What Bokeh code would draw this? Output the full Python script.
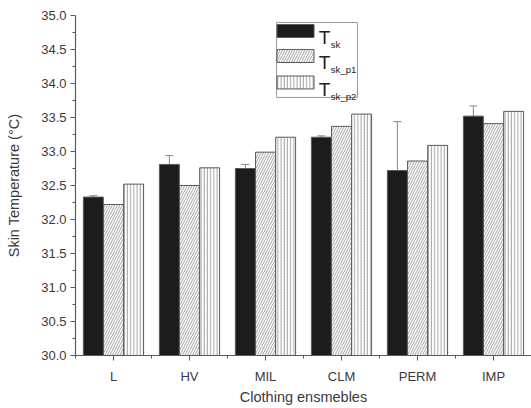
import numpy as np
from bokeh.plotting import figure
from bokeh.models import Range1d, FixedTicker, Whisker, ColumnDataSource, TeeHead, CustomJSTickFormatter
from bokeh.core.properties import value
from bokeh.embed import file_html
from bokeh.resources import INLINE

categories = ["L", "HV", "MIL", "CLM", "PERM", "IMP"]
tsk = [32.33, 32.81, 32.75, 33.21, 32.72, 33.52]
tsk_err_top = [32.35, 32.94, 32.81, 33.23, 33.44, 33.67]
tsk_p1 = [32.22, 32.50, 32.99, 33.37, 32.86, 33.41]
tsk_p2 = [32.52, 32.76, 33.21, 33.55, 33.09, 33.59]
y_ticks = [30.0, 30.5, 31.0, 31.5, 32.0, 32.5, 33.0, 33.5, 34.0, 34.5, 35.0]

FONT = "Liberation Sans"
TXT = "#3a3a3a"
EDGE = "#5a5a5a"

p = figure(width=531, height=408, output_backend="svg", toolbar_location=None,
           x_range=Range1d(0.5, 6.5), y_range=Range1d(30.0, 35.0),
           min_border_left=75, min_border_right=0, min_border_top=15, min_border_bottom=53)
p.outline_line_color = None
p.grid.visible = False
p.background_fill_color = "white"

xc = np.arange(1, len(categories) + 1)
bw = 0.262
off = 0.265
base = 30.0

p.vbar(x=xc - off, top=tsk, bottom=base, width=bw, fill_color="#1c1c1c",
       line_color=EDGE, line_width=1)
p.vbar(x=xc, top=tsk_p1, bottom=base, width=bw, fill_color="white",
       line_color=EDGE, line_width=1, hatch_pattern="right_diagonal_line",
       hatch_color="#8a8a8a", hatch_scale=5, hatch_weight=0.8)
p.vbar(x=xc + off, top=tsk_p2, bottom=base, width=bw, fill_color="white",
       line_color=EDGE, line_width=1, hatch_pattern="vertical_line",
       hatch_color="#8a8a8a", hatch_scale=3.2, hatch_weight=0.8)

src = ColumnDataSource(dict(x=xc - off, lo=tsk, hi=tsk_err_top))
p.add_layout(Whisker(source=src, base="x", lower="lo", upper="hi",
                     line_color="#888888", line_width=1, lower_head=None,
                     upper_head=TeeHead(size=8, line_color="#888888", line_width=1)))

# legend (drawn manually to allow subscripts)
p.quad(left=[3.145], right=[4.21], bottom=[33.795], top=[34.897],
       fill_color="white", line_color="#9a9a9a", line_width=1)
sw_y = [34.772, 34.404, 34.015]
p.rect(x=[3.395], y=[sw_y[0]], width=0.487, height=0.19, fill_color="#1c1c1c",
       line_color=EDGE)
p.rect(x=[3.395], y=[sw_y[1]], width=0.487, height=0.19, fill_color="white",
       line_color=EDGE, hatch_pattern="right_diagonal_line", hatch_color="#8a8a8a",
       hatch_scale=5, hatch_weight=0.8)
p.rect(x=[3.395], y=[sw_y[2]], width=0.487, height=0.19, fill_color="white",
       line_color=EDGE, hatch_pattern="vertical_line", hatch_color="#8a8a8a",
       hatch_scale=3.2, hatch_weight=0.8)
subs = ["sk", "sk_p1", "sk_p2"]
p.text(x=[3.70] * 3, y=[v - 0.096 for v in sw_y], text=["T"] * 3, text_font=value(FONT),
       text_font_size="19px", text_color="#222222", text_baseline="alphabetic")
p.text(x=[3.86] * 3, y=[v - 0.2 for v in sw_y], text=subs, text_font=value(FONT),
       text_font_size="9.5px", text_color="#222222", text_baseline="alphabetic")

# axes
p.xaxis.ticker = FixedTicker(ticks=list(xc), minor_ticks=[0.5 + i for i in range(7)])
p.xaxis.major_label_overrides = {int(i): c for i, c in zip(xc, categories)}
p.yaxis.ticker = FixedTicker(ticks=y_ticks, minor_ticks=[30.25 + 0.5 * i for i in range(10)])
p.yaxis.formatter = CustomJSTickFormatter(code="return tick.toFixed(1);")

for ax in (p.xaxis[0], p.yaxis[0]):
    ax.axis_line_color = EDGE
    ax.axis_line_width = 1.2
    ax.major_tick_line_color = EDGE
    ax.minor_tick_line_color = EDGE
    ax.major_tick_out = 5
    ax.major_tick_in = 0
    ax.minor_tick_out = 3
    ax.minor_tick_in = 0
    ax.major_label_text_font = FONT
    ax.major_label_text_font_size = "13px"
    ax.major_label_text_color = TXT
    ax.axis_label_text_font = FONT
    ax.axis_label_text_font_size = "14.5px"
    ax.axis_label_text_font_style = "normal"
    ax.axis_label_text_color = TXT

p.xaxis.axis_label = "Clothing ensmebles"
p.yaxis.axis_label = "Skin Temperature (°C)"
p.xaxis.major_label_standoff = 8
p.xaxis.axis_label_standoff = 2
p.yaxis.major_label_standoff = 4
p.yaxis.axis_label_standoff = 16

open("out.html", "w").write(file_html(p, INLINE))
